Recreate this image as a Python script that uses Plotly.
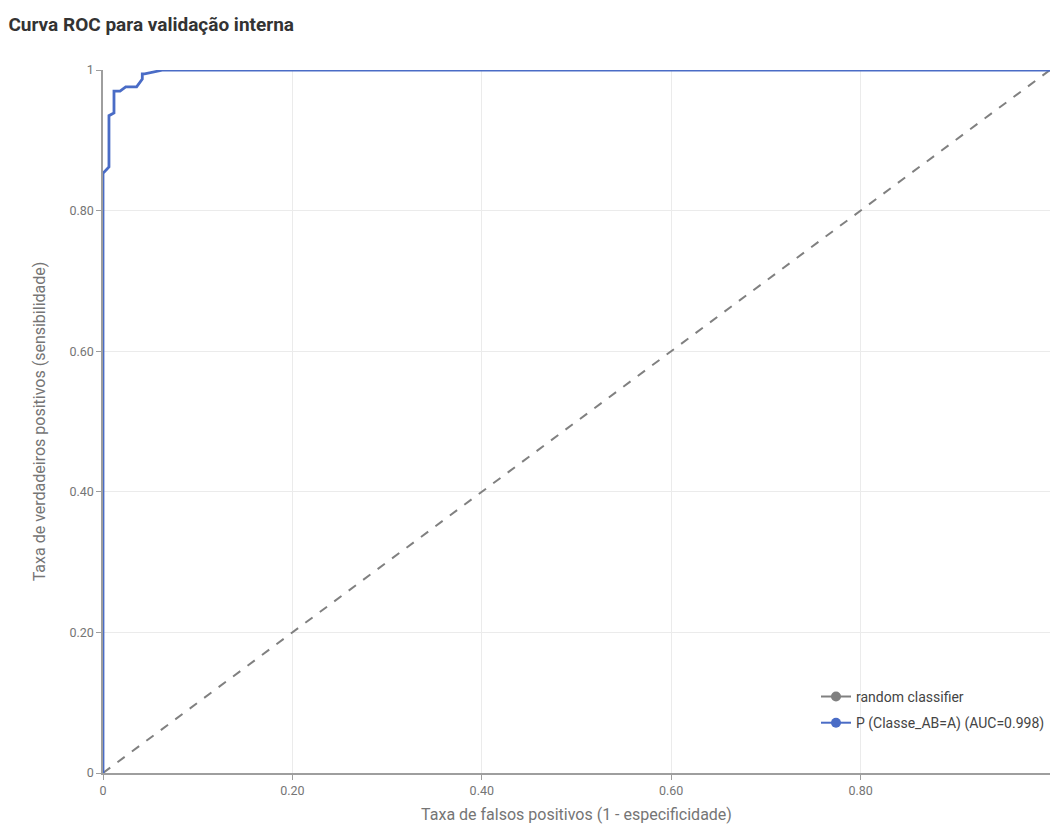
import plotly.graph_objects as go

fpr = [0.0, 0.0, 0.0063, 0.0063, 0.0116, 0.0116, 0.018, 0.024, 0.0355, 0.0415, 0.0415, 0.044, 0.0637, 1.0]
tpr = [0.0, 0.853, 0.862, 0.935, 0.939, 0.970, 0.970, 0.976, 0.976, 0.987, 0.9945, 0.9945, 1.0, 1.0]
rand_x = [0.0, 1.0]
rand_y = [0.0, 1.0]
tick_vals = [0, 0.2, 0.4, 0.6, 0.8, 1]
tick_text = ["0", "0.20", "0.40", "0.60", "0.80", "1"]

blue = "#4a6cc6"
gray = "#808080"
font_col = "#757575"

fig = go.Figure()
fig.add_trace(go.Scatter(x=rand_x, y=rand_y, mode="lines", line=dict(color=gray, width=2, dash="dash"),
                         showlegend=False, hoverinfo="skip"))
fig.add_trace(go.Scatter(x=fpr, y=tpr, mode="lines", line=dict(color=blue, width=2.8),
                         showlegend=False))
fig.add_trace(go.Scatter(x=[None], y=[None], mode="lines+markers", name="random classifier",
                         legendgroup="a",
                         line=dict(color=gray, width=2), marker=dict(color=gray, size=10)))
fig.add_trace(go.Scatter(x=[None], y=[None], mode="lines+markers", name="P (Classe_AB=A) (AUC=0.998)",
                         legendgroup="b",
                         line=dict(color=blue, width=2), marker=dict(color=blue, size=10)))

axis_common = dict(
    range=[0, 1], tickvals=tick_vals, ticktext=tick_text,
    showgrid=True, gridcolor="#ebebeb", gridwidth=1,
    showline=True, linecolor="#9e9e9e", linewidth=1.5,
    ticks="outside", ticklen=5, tickcolor="#9e9e9e",
    tickfont=dict(family="Roboto", size=12.5, color=font_col),
    zeroline=False,
)

fig.update_layout(
    width=1050, height=825,
    margin=dict(l=103, r=0, t=70, b=52),
    plot_bgcolor="white", paper_bgcolor="white",
    title=dict(text="<b>Curva ROC para validação interna</b>", x=0.008, xanchor="left", y=0.971, yanchor="middle",
               font=dict(family="Roboto", size=19, color="#333333")),
    xaxis=dict(**axis_common, title=dict(text="Taxa de falsos positivos (1 - especificidade)",
                                           font=dict(family="Roboto", size=16, color=font_col), standoff=12)),
    yaxis=dict(**axis_common, title=dict(text="Taxa de verdadeiros positivos (sensibilidade)",
                                           font=dict(family="Roboto", size=16, color=font_col), standoff=20)),
    legend=dict(x=1.0, xanchor="right", y=0.131, yanchor="top", bgcolor="rgba(0,0,0,0)",
                itemwidth=30, tracegroupgap=5,
                font=dict(family="Roboto", size=14, color="#444444")),
    showlegend=True,
)

fig.write_html("out.html", config={"displayModeBar": False},
               post_script="document.body.style.margin='0';document.body.style.overflow='hidden';")
